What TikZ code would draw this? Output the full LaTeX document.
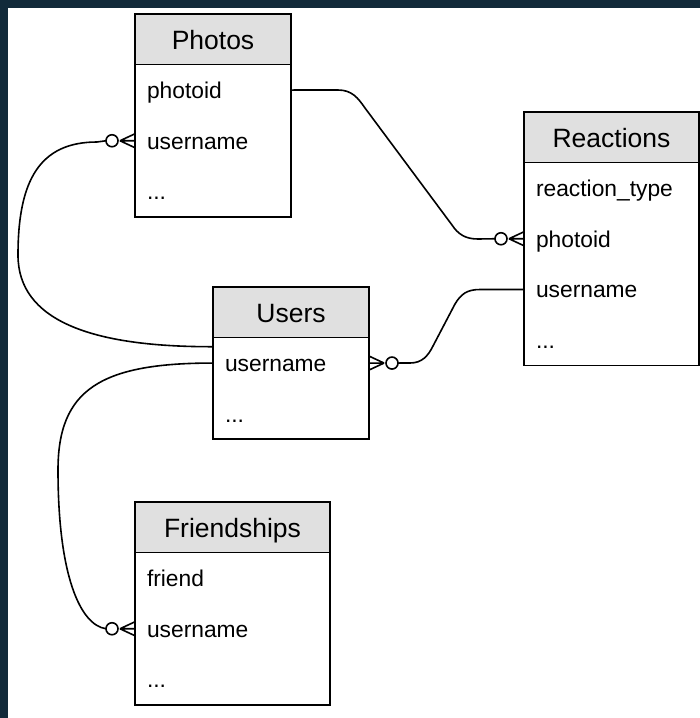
\documentclass[tikz,border=0pt]{standalone}
\usepackage{fontspec}
\setmainfont{Liberation Sans}
\usetikzlibrary{calc}
\definecolor{navy}{RGB}{18,42,58}
\definecolor{hdrgray}{RGB}{224,224,224}
\tikzset{
  hdr/.style={draw, fill=hdrgray, anchor=north west, minimum height=50.7pt, inner sep=0pt, outer sep=0pt,
    font=\fontsize{26.5}{30}\selectfont, text height=20pt, text depth=0pt},
  rowtext/.style={anchor=north west, minimum height=50.7pt, inner xsep=12pt, inner ysep=0pt, outer sep=0pt,
    align=left, font=\fontsize{22.8}{27}\selectfont, text height=19pt, text depth=2pt},
  conn/.style={line width=1.6pt},
  crow/.pic={
    \draw[conn] (-15,0) -- (0,-7) (-15,0) -- (0,0) (-15,0) -- (0,7);
    \draw[conn, fill=white] (-23,0) circle (6pt);
  }
}
\begin{document}
\begin{tikzpicture}[x=1pt, y=-1pt, line width=1.5pt]
\useasboundingbox (0,0) rectangle (700,718);
\fill[navy] (0,0) rectangle (700,718);
\fill[white] (8,8) rectangle (700,718);

% Photos
\node[hdr, minimum width=156pt] (photos) at (135,14) {Photos};
\node[rowtext, text width=132pt] (photos-photoid) at (photos.south west) {photoid};
\node[rowtext, text width=132pt] (photos-username) at (photos-photoid.south west) {username};
\node[rowtext, text width=132pt] (photos-more) at (photos-username.south west) {...};
\draw (photos-photoid.north west) rectangle (photos-more.south east);

% Reactions
\node[hdr, minimum width=175pt] (reactions) at (524,112) {Reactions};
\node[rowtext, text width=151pt] (reactions-type) at (reactions.south west) {reaction\_type};
\node[rowtext, text width=151pt] (reactions-photoid) at (reactions-type.south west) {photoid};
\node[rowtext, text width=151pt] (reactions-username) at (reactions-photoid.south west) {username};
\node[rowtext, text width=151pt] (reactions-more) at (reactions-username.south west) {...};
\draw (reactions-type.north west) rectangle (reactions-more.south east);

% Users
\node[hdr, minimum width=156pt] (users) at (213,287) {Users};
\node[rowtext, text width=132pt] (users-username) at (users.south west) {username};
\node[rowtext, text width=132pt] (users-more) at (users-username.south west) {...};
\draw (users-username.north west) rectangle (users-more.south east);

% Friendships
\node[hdr, minimum width=195pt] (friendships) at (135,502) {Friendships};
\node[rowtext, text width=171pt] (friendships-friend) at (friendships.south west) {friend};
\node[rowtext, text width=171pt] (friendships-username) at (friendships-friend.south west) {username};
\node[rowtext, text width=171pt] (friendships-more) at (friendships-username.south west) {...};
\draw (friendships-friend.north west) rectangle (friendships-more.south east);

% connector end points
\coordinate (rp) at ($(reactions-photoid.west)+(-29,0)$);
\coordinate (pu) at ($(photos-username.west)+(-29,0)$);
\coordinate (uw1) at ($(users-username.north west)+(0,9)$);
\coordinate (uu) at ($(users-username.east)+(29,0)$);
\coordinate (fu) at ($(friendships-username.west)+(-29,0)$);

% Photos.photoid -> Reactions.photoid
\draw[conn] (photos-photoid.east) -- (338,90) .. controls (352,90) and (358,98) .. (365,108)
  -- (452,225) .. controls (458,234) and (465,239) .. (478,239) -- (rp);
% Users -> Photos.username
\draw[conn] (uw1) .. controls (90,347) and (18,320) .. (18,255)
  .. controls (18,180) and (40,142) .. (97,142) -- (pu);
% Users.username -> Reactions.username
\draw[conn] (uu) -- (410,363) .. controls (422,363) and (428,356) .. (433,346)
  -- (455,304) .. controls (461,294) and (467,289.5) .. (480,289.5) -- (reactions-username.west);
% Users.username -> Friendships.username
\draw[conn] (users-username.west) .. controls (100,363) and (58,390) .. (58,470)
  .. controls (58,575) and (80,625) .. (fu);

% crow's feet
\pic at (reactions-photoid.west) {crow};
\pic at (photos-username.west) {crow};
\pic at (friendships-username.west) {crow};
\pic[xscale=-1] at (users-username.east) {crow};
\end{tikzpicture}
\end{document}
